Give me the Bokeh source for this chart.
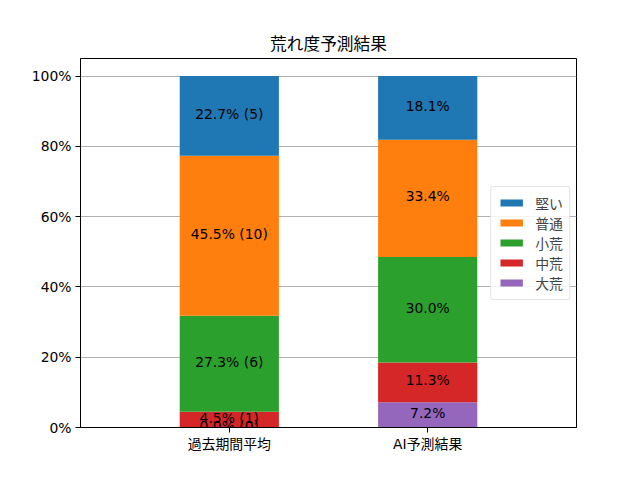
from bokeh.plotting import figure
from bokeh.models import ColumnDataSource, FixedTicker, PrintfTickFormatter, Range1d, Legend, LegendItem
from bokeh.core.properties import value
from bokeh.embed import file_html
from bokeh.resources import INLINE

# ---- data ----
categories = ["過去期間平均", "AI予測結果"]
levels = ["大荒", "中荒", "小荒", "普通", "堅い"]          # bottom -> top
past_pct = [0.0, 4.5, 27.3, 45.5, 22.7]
past_cnt = [0, 1, 6, 10, 5]
ai_pct = [7.2, 11.3, 30.0, 33.4, 18.1]
y_ticks = [0, 20, 40, 60, 80, 100]
colors = ["#9467bd", "#d62728", "#2ca02c", "#ff7f0e", "#1f77b4"]

FONT = "DejaVu Sans, Noto Sans CJK JP"
FS = "13.9px"

xs = list(range(len(categories)))
data = {"x": xs}
for i, lv in enumerate(levels):
    data[lv] = [past_pct[i], ai_pct[i]]
source = ColumnDataSource(data)

p = figure(width=640, height=480, output_backend="svg", toolbar_location=None,
           x_range=Range1d(-0.75, 1.75), y_range=Range1d(0, 105),
           min_border_left=80, min_border_right=64, min_border_top=58, min_border_bottom=53)

p.title.text = "荒れ度予測結果"
p.title.align = "center"
p.title.text_font = FONT
p.title.text_font_size = "16.7px"
p.title.text_font_style = "normal"
p.title.text_color = "black"

renderers = p.vbar_stack(levels, x="x", width=0.5, source=source, color=colors, line_color=None)

# labels at segment centers
lx, ly, lt = [], [], []
for j, vals in enumerate([past_pct, ai_pct]):
    cum = 0.0
    for i, v in enumerate(vals):
        lx.append(xs[j])
        ly.append(cum + v / 2)
        if j == 0:
            lt.append(f"{v:.1f}% ({past_cnt[i]})")
        else:
            lt.append(f"{v:.1f}%")
        cum += v
lsrc = ColumnDataSource(dict(x=lx, y=ly, t=lt))
p.text(x="x", y="y", text="t", source=lsrc, text_align="center", text_baseline="middle",
       y_offset=-2, text_font=value(FONT), text_font_size=FS, text_color="black")

# legend (top to bottom: 堅い ... 大荒)
items = [LegendItem(label=levels[i], renderers=[renderers[i]]) for i in reversed(range(len(levels)))]
legend = Legend(items=items, location="right", margin=6)
legend.label_text_font = FONT
legend.label_text_font_size = FS
legend.glyph_width = 28
legend.glyph_height = 9
legend.label_height = 16
legend.spacing = 0
legend.padding = 6
legend.label_standoff = 10
legend.border_line_color = "#cccccc"
legend.border_radius = 3
legend.background_fill_alpha = 0.85
p.add_layout(legend, "center")

# axes
p.xaxis.ticker = FixedTicker(ticks=xs)
p.xaxis.major_label_overrides = {x: c for x, c in zip(xs, categories)}
p.yaxis.ticker = FixedTicker(ticks=y_ticks)
p.yaxis.formatter = PrintfTickFormatter(format="%d%%")
for ax in [p.xaxis, p.yaxis]:
    ax.major_label_text_font = FONT
    ax.major_label_text_font_size = FS
    ax.major_label_text_color = "black"
    ax.axis_line_color = "black"
    ax.major_tick_line_color = "black"
    ax.major_tick_in = 0
    ax.major_tick_out = 5
    ax.minor_tick_line_color = None
p.xaxis.major_label_standoff = 3
p.yaxis.major_label_standoff = 4

p.xgrid.grid_line_color = None
p.ygrid.grid_line_color = "#b0b0b0"
p.ygrid.grid_line_width = 1
p.outline_line_color = "black"
p.outline_line_alpha = 1
p.background_fill_color = "white"
p.border_fill_color = "white"

open("out.html", "w").write(file_html(p, INLINE))
